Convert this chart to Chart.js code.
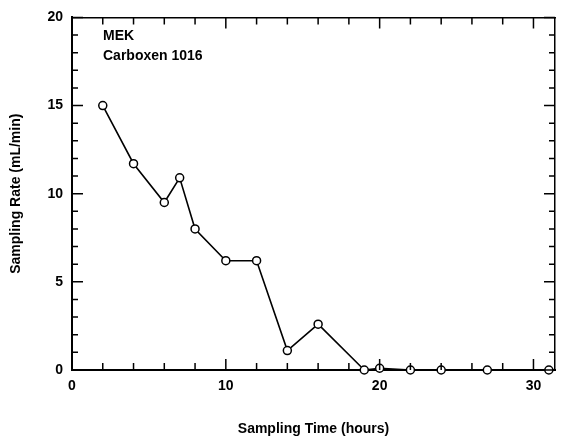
<!DOCTYPE html>
<html>
<head>
<meta charset="utf-8">
<script src="https://cdn.jsdelivr.net/npm/chart.js@4.4.1/dist/chart.umd.min.js"></script>
<style>
  html, body { margin: 0; padding: 0; background: #fff; }
  #wrap { width: 564px; height: 442px; }
</style>
</head>
<body>
<div id="wrap"><canvas id="chart" width="564" height="442"></canvas></div>
<script>
// Sampling time (hours) and sampling rate (mL/min)
const hours = [2, 4, 6, 7, 8, 10, 12, 14, 16, 19, 20, 22, 24, 27, 31];
const rates = [15.0, 11.7, 9.5, 10.9, 8.0, 6.2, 6.2, 1.1, 2.6, 0, 0.1, 0, 0, 0, 0];
const xTicks = [0, 10, 20, 30];
const yTicks = [0, 5, 10, 15, 20];
const noteLines = ['MEK', 'Carboxen 1016'];

const FONT = '"Liberation Sans", Arial, sans-serif';

// draws inward tick marks on all four sides plus the note text
const frameTicks = {
    id: 'frameTicks',
    afterDraw(chart) {
        const ctx = chart.ctx;
        const x = chart.scales.x, y = chart.scales.y;
        const a = chart.chartArea;
        ctx.save();
        ctx.strokeStyle = '#000';
        ctx.lineWidth = 1.5;
        ctx.beginPath();
        for (let v = 0; v <= 30; v += 2) {
            const px = x.getPixelForValue(v);
            const len = v % 10 === 0 ? 11 : 7;
            ctx.moveTo(px, a.bottom); ctx.lineTo(px, a.bottom - len);
            ctx.moveTo(px, a.top); ctx.lineTo(px, a.top + len);
        }
        for (let v = 0; v <= 20; v += 1) {
            const py = y.getPixelForValue(v);
            const len = v % 5 === 0 ? 11 : 6;
            ctx.moveTo(a.left, py); ctx.lineTo(a.left + len, py);
            ctx.moveTo(a.right, py); ctx.lineTo(a.right - len, py);
        }
        ctx.stroke();

        ctx.fillStyle = '#000';
        ctx.font = 'bold 14px ' + FONT;
        ctx.textBaseline = 'middle';
        noteLines.forEach((t, i) => ctx.fillText(t, a.left + 31, a.top + 19 + i * 20));
        ctx.restore();
    }
};

const ctx = document.getElementById('chart').getContext('2d');
new Chart(ctx, {
    type: 'line',
    data: {
        datasets: [{
            data: hours.map((h, i) => ({ x: h, y: rates[i] })),
            borderColor: '#000',
            borderWidth: 1.6,
            pointRadius: 4,
            pointBorderWidth: 1.5,
            pointBackgroundColor: '#fff',
            pointBorderColor: '#000',
            tension: 0,
            clip: false
        }]
    },
    options: {
        responsive: false,
        animation: false,
        layout: { padding: { top: 12, right: 9, left: 4, bottom: 0 } },
        plugins: { legend: { display: false }, tooltip: { enabled: false } },
        scales: {
            x: {
                type: 'linear',
                min: 0,
                max: 31.4,
                afterBuildTicks: s => { s.ticks = xTicks.map(v => ({ value: v })); },
                afterFit: s => { s.height = 72; },
                grid: { display: false, drawTicks: false },
                border: { display: true, color: '#000', width: 2 },
                ticks: { color: '#000', padding: 8, font: { family: FONT, size: 14, weight: 'bold' } },
                title: {
                    display: true,
                    text: 'Sampling Time (hours)',
                    color: '#000',
                    padding: { top: 18 },
                    font: { family: FONT, size: 14, weight: 'bold' }
                }
            },
            y: {
                min: 0,
                max: 20,
                afterBuildTicks: s => { s.ticks = yTicks.map(v => ({ value: v })); },
                afterFit: s => { s.width = 68; },
                grid: { display: false, drawTicks: false },
                border: { display: true, color: '#000', width: 2 },
                ticks: { color: '#000', padding: 9, font: { family: FONT, size: 14, weight: 'bold' } },
                title: {
                    display: true,
                    text: 'Sampling Rate (mL/min)',
                    color: '#000',
                    padding: { bottom: 10 },
                    font: { family: FONT, size: 14, weight: 'bold' }
                }
            },
            x2: {
                type: 'linear', position: 'top', min: 0, max: 31.4,
                grid: { display: false, drawTicks: false },
                ticks: { display: false },
                border: { display: true, color: '#000', width: 1.5 },
                afterFit: s => { s.height = 0; }
            },
            y2: {
                position: 'right', min: 0, max: 20,
                grid: { display: false, drawTicks: false },
                ticks: { display: false },
                border: { display: true, color: '#000', width: 1.5 },
                afterFit: s => { s.width = 0; }
            }
        }
    },
    plugins: [frameTicks]
});
</script>
</body>
</html>
